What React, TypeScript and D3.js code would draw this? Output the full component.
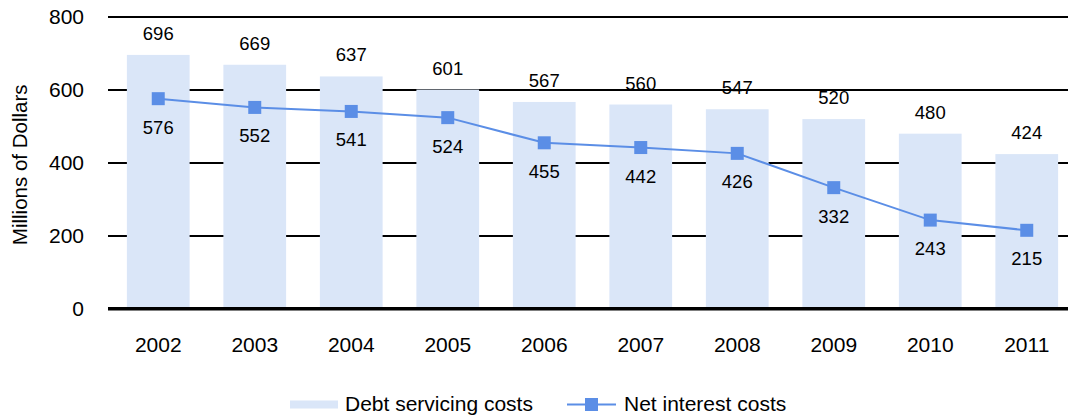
import { useEffect, useRef } from 'react'
import * as d3 from 'd3'

const years = ['2002', '2003', '2004', '2005', '2006', '2007', '2008', '2009', '2010', '2011']
const debtServicing = [696, 669, 637, 601, 567, 560, 547, 520, 480, 424]
const netInterest = [576, 552, 541, 524, 455, 442, 426, 332, 243, 215]
const yTicks = [0, 200, 400, 600, 800]

const BAR_COLOR = '#dae6f8'
const LINE_COLOR = '#5b8ee6'
const FONT = '"Liberation Sans", Arial, sans-serif'

export default function App() {
  const svgRef = useRef<SVGSVGElement>(null)
  const width = 1068
  const height = 417

  useEffect(() => {
    if (!svgRef.current) return
    const svg = d3.select(svgRef.current)
    svg.selectAll('*').remove()

    const x = d3.scaleBand().domain(years).range([110, 1075]).paddingInner(0.35).paddingOuter(0.175)
    const y = d3.scaleLinear().domain([0, 800]).range([308.7, 17])

    // gridlines
    svg.append('g')
      .selectAll('line')
      .data(yTicks.filter(t => t > 0))
      .enter().append('line')
      .attr('x1', 108)
      .attr('x2', width)
      .attr('y1', d => Math.round(y(d)))
      .attr('y2', d => Math.round(y(d)))
      .attr('stroke', '#000')
      .attr('stroke-width', 2)

    // bars
    svg.append('g')
      .selectAll('rect')
      .data(debtServicing)
      .enter().append('rect')
      .attr('x', (d, i) => x(years[i])!)
      .attr('y', d => y(d))
      .attr('width', x.bandwidth())
      .attr('height', d => y(0) - y(d))
      .attr('fill', BAR_COLOR)

    // baseline
    svg.append('line')
      .attr('x1', 108)
      .attr('x2', width)
      .attr('y1', y(0))
      .attr('y2', y(0))
      .attr('stroke', '#000')
      .attr('stroke-width', 3.5)

    // y tick labels
    svg.append('g')
      .selectAll('text')
      .data(yTicks)
      .enter().append('text')
      .attr('x', 84)
      .attr('y', d => y(d))
      .attr('dy', '0.35em')
      .attr('text-anchor', 'end')
      .style('font-family', FONT)
      .style('font-size', '21px')
      .text(d => d)

    // x tick labels
    svg.append('g')
      .selectAll('text')
      .data(years)
      .enter().append('text')
      .attr('x', d => x(d)! + x.bandwidth() / 2)
      .attr('y', 352)
      .attr('text-anchor', 'middle')
      .style('font-family', FONT)
      .style('font-size', '21px')
      .text(d => d)

    // y axis title
    svg.append('text')
      .attr('transform', `translate(27,${(y(0) + y(800)) / 2 + 2}) rotate(-90)`)
      .attr('text-anchor', 'middle')
      .style('font-family', FONT)
      .style('font-size', '20.5px')
      .text('Millions of Dollars')

    // bar value labels
    svg.append('g')
      .selectAll('text')
      .data(debtServicing)
      .enter().append('text')
      .attr('x', (d, i) => x(years[i])! + x.bandwidth() / 2)
      .attr('y', d => y(d) - 15)
      .attr('text-anchor', 'middle')
      .style('font-family', FONT)
      .style('font-size', '18.5px')
      .text(d => d)

    // line
    const line = d3.line<number>()
      .x((d, i) => x(years[i])! + x.bandwidth() / 2)
      .y(d => y(d))

    svg.append('path')
      .datum(netInterest)
      .attr('d', line)
      .attr('fill', 'none')
      .attr('stroke', LINE_COLOR)
      .attr('stroke-width', 2)

    svg.append('g')
      .selectAll('rect')
      .data(netInterest)
      .enter().append('rect')
      .attr('x', (d, i) => x(years[i])! + x.bandwidth() / 2 - 6.5)
      .attr('y', d => y(d) - 6.5)
      .attr('width', 13)
      .attr('height', 13)
      .attr('fill', LINE_COLOR)

    svg.append('g')
      .selectAll('text')
      .data(netInterest)
      .enter().append('text')
      .attr('x', (d, i) => x(years[i])! + x.bandwidth() / 2)
      .attr('y', d => y(d) + 35)
      .attr('text-anchor', 'middle')
      .style('font-family', FONT)
      .style('font-size', '18.5px')
      .text(d => d)

    // legend
    const legend = svg.append('g')
    legend.append('rect')
      .attr('x', 290).attr('y', 400.5)
      .attr('width', 48).attr('height', 8)
      .attr('fill', BAR_COLOR)
    legend.append('text')
      .attr('x', 345).attr('y', 411)
      .style('font-family', FONT)
      .style('font-size', '21px')
      .text('Debt servicing costs')
    legend.append('line')
      .attr('x1', 567).attr('x2', 616)
      .attr('y1', 404.5).attr('y2', 404.5)
      .attr('stroke', LINE_COLOR)
      .attr('stroke-width', 2)
    legend.append('rect')
      .attr('x', 591.5 - 6.5).attr('y', 404.5 - 6.5)
      .attr('width', 13).attr('height', 13)
      .attr('fill', LINE_COLOR)
    legend.append('text')
      .attr('x', 624).attr('y', 411)
      .style('font-family', FONT)
      .style('font-size', '21px')
      .text('Net interest costs')
  }, [])

  return (
    <svg
      ref={svgRef}
      width={width}
      height={height}
      style={{ position: 'absolute', left: 0, top: 0, overflow: 'hidden', background: '#fff' }}
    />
  )
}
